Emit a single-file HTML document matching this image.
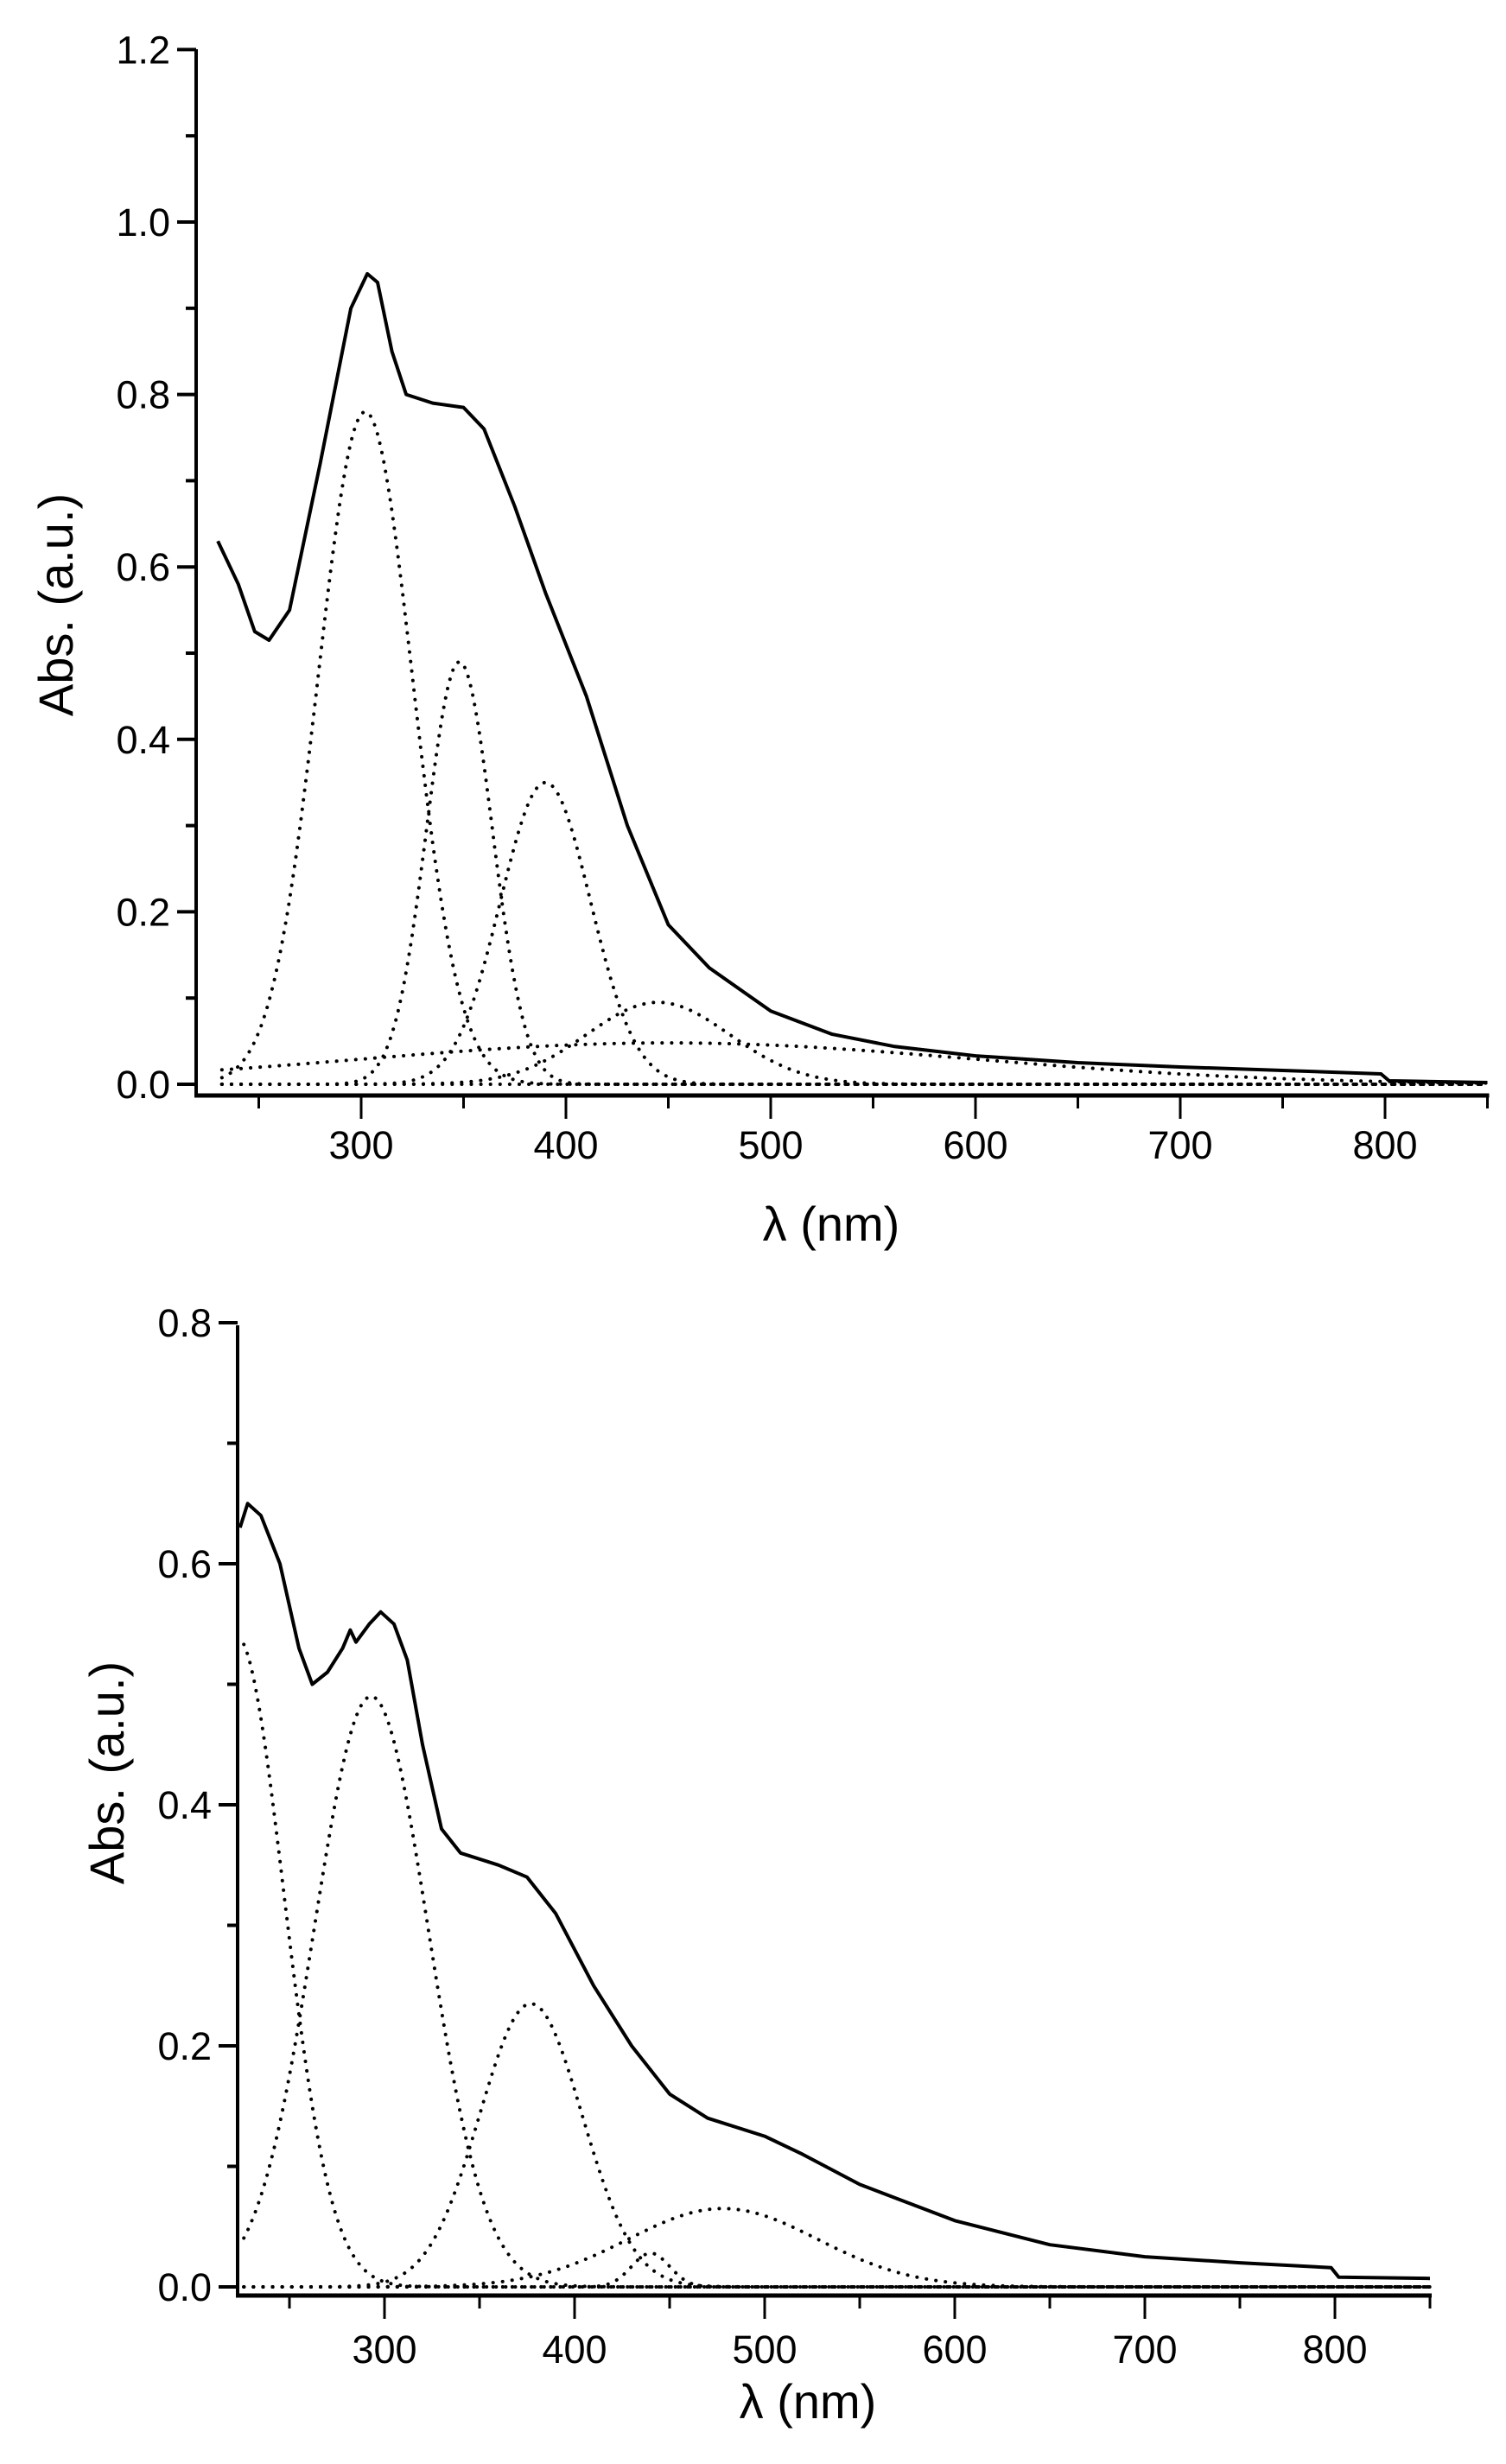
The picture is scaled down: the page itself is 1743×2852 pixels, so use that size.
<!DOCTYPE html>
<html><head><meta charset="utf-8"><style>
html,body{margin:0;padding:0;background:#fff}
svg{display:block}
text{font-family:"Liberation Sans",Arial,sans-serif;fill:#000}
</style></head><body>
<svg id="s" width="1743" height="2852" viewBox="0 0 1743 2852" xmlns="http://www.w3.org/2000/svg"></svg>
<script>
const S=document.getElementById('s');let out='';
function plot(o){
 const X=nm=>o.x300+(nm-300)*o.pxnm, Y=a=>o.y0-a*o.pya;
 out+=`<line x1="${o.ax}" y1="${o.ytop}" x2="${o.ax}" y2="${o.axb}" stroke="#000" stroke-width="4"/>`;
 out+=`<line x1="${o.ax-2}" y1="${o.axb}" x2="${X(850)+2}" y2="${o.axb}" stroke="#000" stroke-width="5"/>`;
 for(let v=0;v<=o.ymax+1e-9;v+=0.1){const maj=Math.round(v*10)%2==0;const y=Y(v);
  out+=`<line x1="${o.ax-(maj?22:12)}" y1="${y}" x2="${o.ax}" y2="${y}" stroke="#000" stroke-width="4"/>`;
  if(maj) out+=`<text x="${o.ax-30}" y="${y+16}" font-size="45" text-anchor="end">${v.toFixed(1)}</text>`;}
 for(let nm=250;nm<=850;nm+=50){const maj=nm%100==0;const x=X(nm);
  out+=`<line x1="${x}" y1="${o.axb}" x2="${x}" y2="${o.axb+(maj?27:15)}" stroke="#000" stroke-width="3"/>`;
  if(maj&&nm<850) out+=`<text x="${x}" y="${o.tly}" font-size="45" text-anchor="middle">${nm}</text>`;}
 out+=`<text x="${o.xlx}" y="${o.xly}" font-size="56" text-anchor="middle">λ (nm)</text>`;
 out+=`<text transform="translate(${o.ylx},${o.yly}) rotate(-90)" font-size="56" text-anchor="middle">Abs. (a.u.)</text>`;
 let d='';o.solid.forEach((p,i)=>{d+=(i?'L':'M')+X(p[0]).toFixed(1)+' '+Y(p[1]).toFixed(1)});
 out+=`<path d="${d}" fill="none" stroke="#000" stroke-width="4" stroke-linejoin="round"/>`;
 o.g.forEach(g=>{let d='';let first=true;
  for(let nm=o.start;nm<=850;nm+=1){const v=g[1]*Math.exp(-0.5*((nm-g[0])/g[2])**2);
   d+=(first?'M':'L')+X(nm).toFixed(1)+' '+Y(v).toFixed(1);first=false;}
  out+=`<path d="${d}" fill="none" stroke="#000" stroke-width="4" stroke-dasharray="0.1 11" stroke-linecap="round"/>`;});
 out+=`<line x1="${X(o.start)}" y1="${Y(0)}" x2="${X(850)}" y2="${Y(0)}" stroke="#000" stroke-width="4" stroke-dasharray="0.1 11" stroke-linecap="round"/>`;
}
plot({x300:418,pxnm:2.37,y0:1255,pya:998,ax:227,ytop:57,axb:1268,ymax:1.2,tly:1341,xlx:962,xly:1436,ylx:84,yly:700,start:232,
 solid:[[230,.63],[240,.58],[248,.525],[255,.515],[265,.55],[280,.72],[295,.9],[303,.94],[308,.93],[315,.85],[322,.8],[335,.79],[350,.785],[360,.76],[375,.67],[390,.57],[410,.45],[430,.30],[450,.185],[470,.135],[500,.085],[530,.058],[560,.044],[600,.033],[650,.025],[700,.02],[750,.016],[798,.012],[802,.004],[850,.002]],
 g:[[302,.78,23],[348,.49,16],[390,.35,22],[445,.095,35],[450,.048,150]]});
plot({x300:445,pxnm:2.2,y0:2647,pya:1395,ax:275,ytop:1534,axb:2657,ymax:0.8,tly:2735,xlx:935,xly:2799,ylx:143,yly:2052,start:226,
 solid:[[224,.63],[228,.65],[235,.64],[245,.6],[255,.53],[262,.5],[270,.51],[278,.53],[282,.545],[285,.535],[292,.55],[298,.56],[305,.55],[312,.52],[320,.45],[330,.38],[340,.36],[360,.35],[375,.34],[390,.31],[410,.25],[430,.2],[450,.16],[470,.14],[500,.125],[520,.11],[550,.085],[600,.055],[650,.035],[700,.025],[750,.02],[798,.016],[802,.008],[850,.007]],
 g:[[222,.54,25],[293,.49,30],[377,.235,27],[478,.065,50],[440,.028,10]]});
S.innerHTML=out;
</script>
</body></html>
